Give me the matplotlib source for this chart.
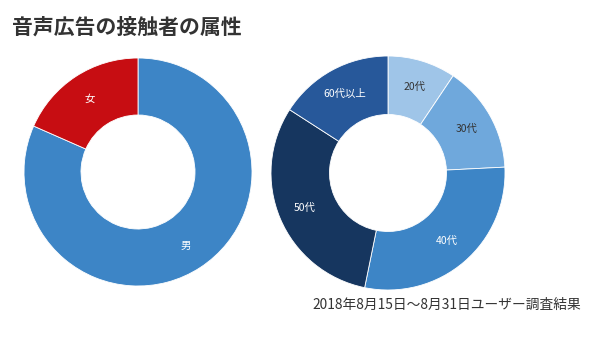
import matplotlib
matplotlib.use("Agg")
import matplotlib.pyplot as plt

plt.rcParams["font.family"] = ["Noto Sans CJK JP", "DejaVu Sans"]

gender_labels = ["男", "女"]
gender_values = [81.6, 18.4]
gender_colors = ["#3d85c6", "#c70d12"]
gender_text = ["white", "white"]

age_labels = ["20代", "30代", "40代", "50代", "60代以上"]
age_values = [9.4, 14.8, 29.0, 30.9, 15.9]
age_colors = ["#9fc5e8", "#6fa8dc", "#3d85c6", "#16365f", "#27589a"]
age_text = ["#333333", "#333333", "white", "white", "white"]

W, H = 600, 342
fig = plt.figure(figsize=(W / 100, H / 100), dpi=100)


def donut(cx, cy, r, values, labels, colors, text_colors):
    ax = fig.add_axes([(cx - r) / W, (H - cy - r) / H, 2 * r / W, 2 * r / H])
    wedges, texts = ax.pie(
        values, labels=labels, colors=colors, startangle=90, counterclock=False,
        labeldistance=0.77, wedgeprops=dict(width=0.5, edgecolor="white", linewidth=0.6),
        textprops=dict(fontsize=7.5, ha="center", va="center"),
    )
    for t, c in zip(texts, text_colors):
        t.set_color(c)
        t.set_ha("center")
    ax.set_xlim(-1, 1)
    ax.set_ylim(-1, 1)
    ax.set_aspect("equal")
    ax.axis("off")
    return ax


donut(138, 172, 114, gender_values, gender_labels, gender_colors, gender_text)
donut(388, 173, 117, age_values, age_labels, age_colors, age_text)

fig.text(12 / W, 1 - 34 / H, "音声広告の接触者の属性", fontsize=15, fontweight="bold",
         color="#333333", ha="left", va="baseline")
fig.text(312 / W, 1 - 309 / H, "2018年8月15日～8月31日ユーザー調査結果", fontsize=9.9,
         color="#333333", ha="left", va="baseline")

fig.savefig("out.png", dpi=100)
